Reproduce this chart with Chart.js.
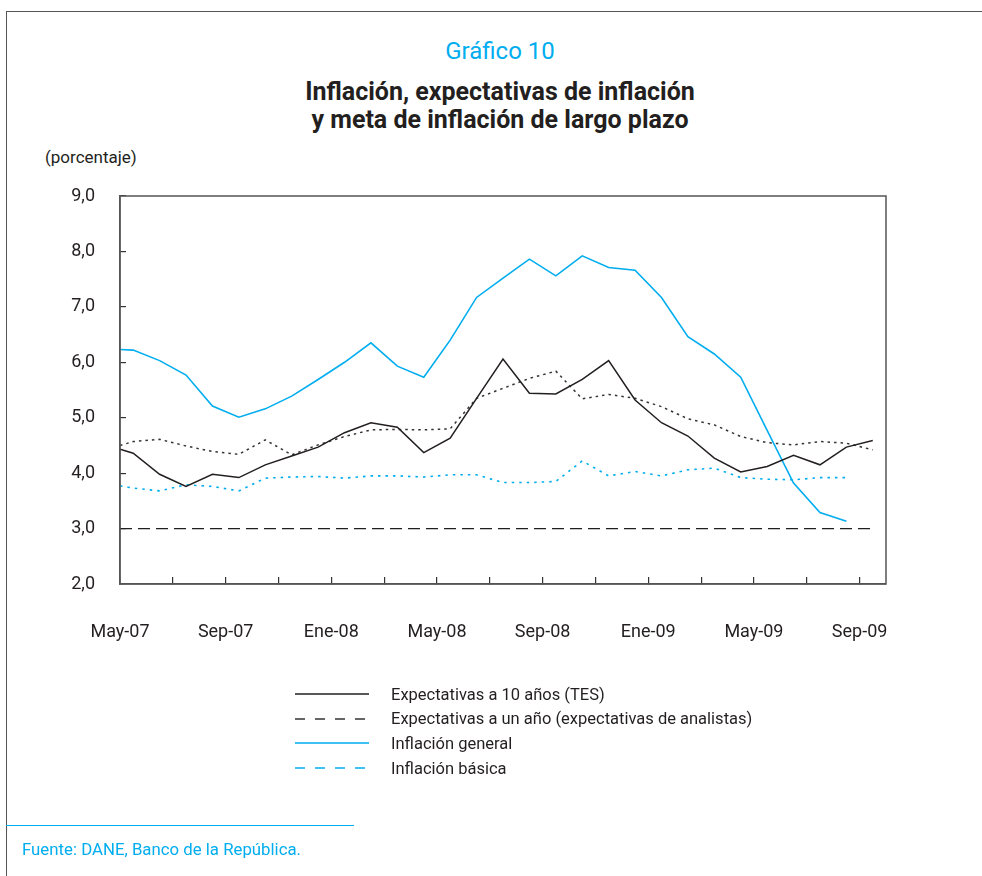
<!DOCTYPE html>
<html>
<head>
<meta charset="utf-8">
<script src="https://cdn.jsdelivr.net/npm/chart.js@4/dist/chart.umd.min.js"></script>
<style>
  html, body { margin: 0; padding: 0; background: #fff; }
  body { width: 982px; height: 876px; position: relative; overflow: hidden;
         font-family: 'Liberation Sans Narrow', 'Roboto', 'DejaVu Sans Condensed', sans-serif; color: #231f20; }
  #c { position: absolute; left: 0; top: 0; }
  .frame-top { position: absolute; left: 6px; top: 11px; width: 976px; border-top: 1.5px solid #555; }
  .frame-left { position: absolute; left: 6px; top: 11px; height: 865px; border-left: 1.5px solid #555; }
  .t-num { position: absolute; left: 0; width: 1000px; top: 39px; text-align: center; font-size: 24px;
           line-height: 24px; color: #00adef; }
  .t-main { position: absolute; left: 0; width: 1000px; top: 78px; text-align: center; font-size: 25px;
            font-weight: bold; line-height: 27.7px; }
  .unit { position: absolute; left: 45px; top: 149px; font-size: 17px; line-height: 17px; }
  #legend { position: absolute; left: 295px; top: 682px; font-size: 16.5px; }
  .leg-row { height: 24.6px; display: flex; align-items: center; }
  .leg-row svg { width: 74px; height: 6px; margin-right: 22px; }
  .src-line { position: absolute; left: 6px; top: 825px; width: 348px; border-top: 1.2px solid #00adef; }
  .src { position: absolute; left: 22px; top: 841px; font-size: 16.8px; line-height: 17px; color: #00adef; }
</style>
</head>
<body>
<div class="frame-top"></div>
<div class="frame-left"></div>
<div class="t-num">Gráfico 10</div>
<div class="t-main">Inflación, expectativas de inflación<br>y meta de inflación de largo plazo</div>
<div class="unit">(porcentaje)</div>
<canvas id="c" width="982" height="876"></canvas>
<div id="legend"></div>
<div class="src-line"></div>
<div class="src">Fuente: DANE, Banco de la República.</div>
<script>
// months since May-07 (0 = start of May-07, x.5 = middle of the month)
const xMonths = [0, 0.5, 1.5, 2.5, 3.5, 4.5, 5.5, 6.5, 7.5, 8.5, 9.5, 10.5, 11.5, 12.5, 13.5,
                 14.5, 15.5, 16.5, 17.5, 18.5, 19.5, 20.5, 21.5, 22.5, 23.5, 24.5, 25.5, 26.5, 27.5, 28.5];
const xTickLabels = ['May-07', 'Sep-07', 'Ene-08', 'May-08', 'Sep-08', 'Ene-09', 'May-09', 'Sep-09'];

const tes10 = [4.43, 4.36, 3.98, 3.76, 3.98, 3.92, 4.15, 4.31, 4.47, 4.73, 4.91, 4.83, 4.37, 4.63, 5.35,
               6.06, 5.44, 5.43, 5.69, 6.03, 5.32, 4.91, 4.67, 4.27, 4.02, 4.12, 4.32, 4.15, 4.47, 4.59];
const analistas = [4.50, 4.57, 4.61, 4.49, 4.39, 4.34, 4.60, 4.33, 4.51, 4.66, 4.78, 4.79, 4.78, 4.80, 5.35,
                   5.53, 5.71, 5.84, 5.34, 5.42, 5.35, 5.20, 4.98, 4.87, 4.66, 4.55, 4.51, 4.57, 4.54, 4.42];
const general = [6.23, 6.22, 6.03, 5.77, 5.21, 5.01, 5.16, 5.39, 5.69, 6.00, 6.35, 5.93, 5.73, 6.40, 7.17,
                 7.52, 7.86, 7.56, 7.92, 7.71, 7.66, 7.17, 6.46, 6.15, 5.73, 4.77, 3.82, 3.29, 3.13];
const basica = [3.77, 3.73, 3.68, 3.79, 3.76, 3.68, 3.91, 3.93, 3.94, 3.91, 3.95, 3.95, 3.93, 3.97, 3.97,
                3.83, 3.83, 3.85, 4.22, 3.95, 4.03, 3.95, 4.06, 4.09, 3.92, 3.89, 3.88, 3.92, 3.92];
const meta = [3.0, 3.0, 3.0, 3.0, 3.0, 3.0, 3.0, 3.0, 3.0, 3.0, 3.0, 3.0, 3.0, 3.0, 3.0,
              3.0, 3.0, 3.0, 3.0, 3.0, 3.0, 3.0, 3.0, 3.0, 3.0, 3.0, 3.0, 3.0, 3.0, 3.0];

const BLUE = '#00adef', BLACK = '#231f20';
const FONT = "'Liberation Sans Narrow', 'Roboto', 'DejaVu Sans Condensed', sans-serif";

const pts = vals => vals.map((v, i) => ({ x: xMonths[i], y: v }));

const datasets = [
  { label: 'Expectativas a 10 años (TES)', data: pts(tes10), borderColor: BLACK, borderWidth: 1.5,
    legendDash: [] },
  { label: 'Expectativas a un año (expectativas de analistas)', data: pts(analistas), borderColor: '#333',
    borderWidth: 1.5, borderDash: [2.5, 4], legendDash: [10, 10] },
  { label: 'Inflación general', data: pts(general), borderColor: BLUE, borderWidth: 1.6, legendDash: [] },
  { label: 'Inflación básica', data: pts(basica), borderColor: BLUE, borderWidth: 1.6,
    borderDash: [2.5, 5], legendDash: [10, 10] },
  { label: 'Meta', data: pts(meta), borderColor: BLACK, borderWidth: 1.3, borderDash: [12, 6], noLegend: true },
];

// box around the plot area
const plotBox = {
  id: 'plotBox',
  afterDraw(chart) {
    const { ctx, chartArea: a } = chart;
    ctx.save();
    ctx.strokeStyle = '#555';
    ctx.lineWidth = 1.5;
    ctx.strokeRect(a.left, a.top, a.right - a.left, a.bottom - a.top);
    ctx.restore();
  }
};

new Chart(document.getElementById('c'), {
  type: 'line',
  data: { datasets },
  options: {
    responsive: false, animation: false,
    layout: { padding: { left: 70, right: 96, top: 196, bottom: 212 } },
    elements: { point: { radius: 0 }, line: { tension: 0 } },
    plugins: { legend: { display: false }, tooltip: { enabled: false } },
    scales: {
      x: {
        type: 'linear', min: 0, max: 29,
        afterFit: s => { s.height = 80; },
        grid: { drawOnChartArea: false, tickLength: -7, color: '#333', lineWidth: 1.2 },
        border: { color: '#555', width: 1.5 },
        ticks: {
          stepSize: 2, includeBounds: false, autoSkip: false, maxRotation: 0, padding: 45,
          color: BLACK, font: { family: FONT, size: 18 },
          callback: v => (v % 4 === 0 ? xTickLabels[v / 4] : ''),
        },
      },
      y: {
        min: 2, max: 9,
        afterFit: s => { s.width = 50; },
        grid: { drawOnChartArea: false, tickLength: -6, color: '#333', lineWidth: 1.2 },
        border: { color: '#555', width: 1.5 },
        ticks: {
          stepSize: 1, padding: 31, color: BLACK, font: { family: FONT, size: 18 },
          callback: v => v.toFixed(1).replace('.', ','),
        },
      },
    },
  },
  plugins: [plotBox],
});

document.getElementById('legend').innerHTML = datasets.filter(d => !d.noLegend).map(d =>
  `<div class="leg-row"><svg viewBox="0 0 74 6"><line x1="0" y1="3" x2="74" y2="3" stroke="${d.borderColor}"
     stroke-width="1.5" stroke-dasharray="${d.legendDash.join(' ')}"/></svg><span>${d.label}</span></div>`
).join('');
</script>
</body>
</html>
